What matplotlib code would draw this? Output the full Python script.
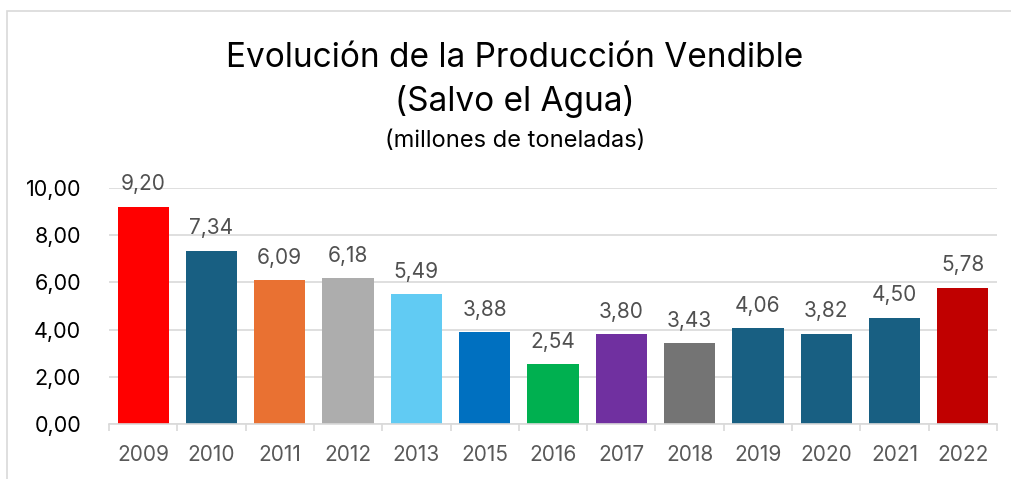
import numpy as np
import matplotlib.pyplot as plt
from matplotlib.patches import Rectangle

years = ["2009", "2010", "2011", "2012", "2013", "2015", "2016",
         "2017", "2018", "2019", "2020", "2021", "2022"]
values = [9.20, 7.34, 6.09, 6.18, 5.49, 3.88, 2.54, 3.80, 3.43, 4.06, 3.82, 4.50, 5.78]
colors = ["#FF0000", "#185F82", "#E97132", "#ADADAD", "#61CBF3", "#0070C0", "#00B050",
          "#7030A0", "#747474", "#185F82", "#185F82", "#185F82", "#C00000"]

plt.rcParams["font.family"] = ["Inter", "DejaVu Sans"]

fig = plt.figure(figsize=(10.12, 4.79), dpi=100)
fig.patches.append(Rectangle((7 / 1012, -0.1), 1.2, 1 - 11 / 479 + 0.1,
                             transform=fig.transFigure, fill=False,
                             edgecolor="#D9D9D9", linewidth=1.2))

ax = fig.add_axes([109 / 1012, 1 - 424 / 479, (997 - 109) / 1012, (424 - 188) / 479])
x = np.arange(len(years))
bars = ax.bar(x, values, width=0.75, color=colors, zorder=3)

for xi, v in zip(x, values):
    ax.annotate(f"{v:.2f}".replace(".", ","), (xi, v), xytext=(0, 9),
                textcoords="offset points", ha="center", va="bottom",
                fontsize=15, color="#505050")

ax.set_xlim(-0.5, len(years) - 0.5)
ax.set_ylim(0, 10)
ax.set_yticks(np.arange(0, 11, 2))
ax.set_yticklabels([f"{t:.2f}".replace(".", ",") for t in np.arange(0, 11, 2)])
ax.set_xticks(x)
ax.set_xticklabels(years)
ax.set_xticks(np.arange(-0.5, len(years), 1), minor=True)
ax.tick_params(axis="y", length=0, pad=20, labelsize=15.5, labelcolor="black")
ax.tick_params(axis="x", which="major", length=0, pad=15, labelsize=15, labelcolor="#595959")
ax.tick_params(axis="x", which="minor", length=5, color="#D9D9D9", width=1.2)
ax.grid(axis="y", color="#D9D9D9", linewidth=1.2, zorder=0)
for s in ["top", "right", "left"]:
    ax.spines[s].set_visible(False)
ax.spines["bottom"].set_color("#D9D9D9")
ax.spines["bottom"].set_linewidth(1.2)
ax.spines["bottom"].set_zorder(4)

fig.text(515 / 1012, 1 - 58 / 479, "Evolución de la Producción Vendible",
         ha="center", va="center", fontsize=24, color="black")
fig.text(515 / 1012, 1 - 102 / 479, "(Salvo el Agua)",
         ha="center", va="center", fontsize=24, color="black")
fig.text(515 / 1012, 1 - 141 / 479, "(millones de toneladas)",
         ha="center", va="center", fontsize=17, color="black")

fig.savefig("out.png", dpi=100)
